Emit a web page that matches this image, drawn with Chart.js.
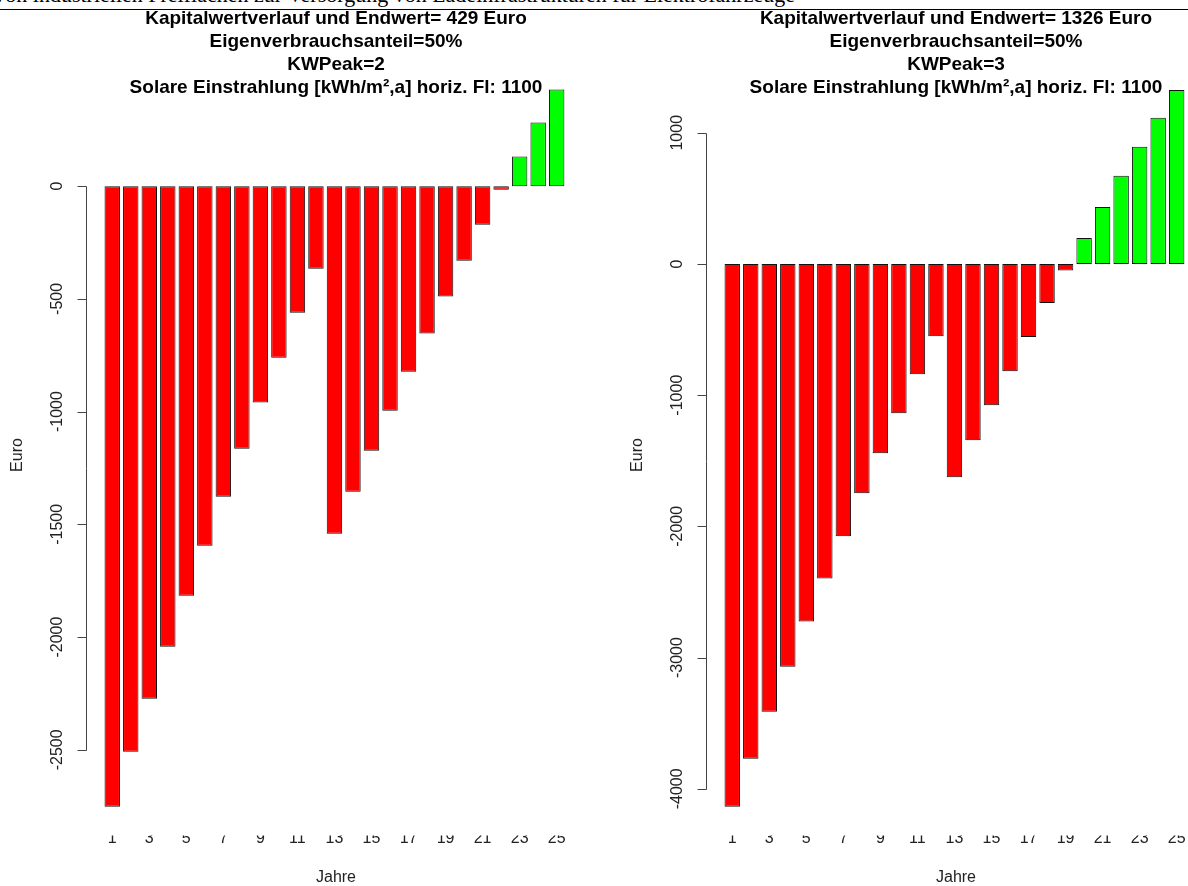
<!DOCTYPE html>
<html lang="de">
<head>
<meta charset="utf-8">
<title>Kapitalwertverlauf</title>
<script src="https://cdn.jsdelivr.net/npm/chart.js@4.4.1/dist/chart.umd.min.js"></script>
<style>
    html, body {
        margin: 0;
        padding: 0;
        background: #fff;
    }
    body {
        position: relative;
        width: 1188px;
        height: 886px;
        overflow: hidden;
    }
    .doc-line {
        position: absolute;
        right: 393px;
        top: -16px;
        font-family: "Liberation Serif", "Times New Roman", serif;
        font-size: 22px;
        line-height: 22px;
        white-space: nowrap;
        color: #000;
    }
    .doc-rule {
        position: absolute;
        left: 0;
        top: 9px;
        width: 1188px;
        height: 1px;
        background: #000;
    }
    canvas {
        position: absolute;
        top: 0;
    }
    #chart-kwp2 { left: 0; }
    #chart-kwp3 { left: 620px; }
</style>
</head>
<body>
<div class="doc-line">Nutzung von industriellen Freiflächen zur Versorgung von Ladeinfrastrukturen für Elektrofahrzeuge</div>
<div class="doc-rule"></div>
<canvas id="chart-kwp2" width="620" height="886"></canvas>
<canvas id="chart-kwp3" width="620" height="886"></canvas>
<script>
const years = [1, 2, 3, 4, 5, 6, 7, 8, 9, 10, 11, 12, 13, 14, 15, 16, 17, 18, 19, 20, 21, 22, 23, 24, 25];
const yearTicks = [1, 3, 5, 7, 9, 11, 13, 15, 17, 19, 21, 23, 25];

// Kapitalwert je Jahr, KWPeak=2
const kwp2Values = [
    -2753, -2509, -2274, -2043, -1817, -1595, -1378, -1165, -960, -761, -561, -366,
    -1542, -1355, -1174, -996, -823, -654, -490, -331, -171, -16, 131, 282, 429,
];
const kwp2Ticks = [0, -500, -1000, -1500, -2000, -2500];
const kwp2Title = [
    "Kapitalwertverlauf und Endwert= 429 Euro",
    "Eigenverbrauchsanteil=50%",
    "KWPeak=2",
    "Solare Einstrahlung [kWh/m\u00b2,a] horiz. Fl: 1100",
];

// Kapitalwert je Jahr, KWPeak=3
const kwp3Values = [
    -4137, -3771, -3412, -3069, -2725, -2397, -2076, -1748, -1443, -1137, -840, -550,
    -1626, -1344, -1076, -817, -557, -298, -50, 198, 435, 672, 893, 1114, 1326,
];
const kwp3Ticks = [1000, 0, -1000, -2000, -3000, -4000];
const kwp3Title = [
    "Kapitalwertverlauf und Endwert= 1326 Euro",
    "Eigenverbrauchsanteil=50%",
    "KWPeak=3",
    "Solare Einstrahlung [kWh/m\u00b2,a] horiz. Fl: 1100",
];

const FONT = '"Liberation Sans", Arial, sans-serif';

// y axis in the style of R: line only between first and last tick, labels turned
const rAxis = {
    id: "rAxis",
    afterDraw(chart, args, opts) {
        const ctx = chart.ctx;
        const yScale = chart.scales.y;
        const x0 = Math.round(chart.chartArea.left) + 0.5;
        const ticks = opts.ticks || [];
        if (!ticks.length) {
            return;
        }
        const yTop = Math.round(yScale.getPixelForValue(Math.max(...ticks))) + 0.5;
        const yBottom = Math.round(yScale.getPixelForValue(Math.min(...ticks))) + 0.5;

        ctx.save();
        ctx.strokeStyle = "#444";
        ctx.lineWidth = 1;
        ctx.beginPath();
        ctx.moveTo(x0, yTop);
        ctx.lineTo(x0, yBottom);
        ticks.forEach((v) => {
            const py = Math.round(yScale.getPixelForValue(v)) + 0.5;
            ctx.moveTo(x0 - 9, py);
            ctx.lineTo(x0, py);
        });
        ctx.stroke();

        ctx.fillStyle = "#222";
        ctx.font = "16px " + FONT;
        ctx.textAlign = "center";
        ctx.textBaseline = "middle";
        ticks.forEach((v) => {
            ctx.save();
            ctx.translate(x0 - 29, yScale.getPixelForValue(v));
            ctx.rotate(-Math.PI / 2);
            ctx.fillText(String(v), 0, 0);
            ctx.restore();
        });

        if (opts.title) {
            ctx.save();
            ctx.translate(x0 - 69, 455);
            ctx.rotate(-Math.PI / 2);
            ctx.fillText(opts.title, 0, 0);
            ctx.restore();
        }
        ctx.restore();
    },
};

function drawKapitalwert(canvasId, values, titleLines, yTicks, yMin, yMax) {
    const points = years.map((year, i) => ({ x: year, y: values[i] }));
    const colors = values.map((v) => (v >= 0 ? "#00ff00" : "#ff0000"));

    const config = {
        type: "bar",
        data: {
            datasets: [
                {
                    data: points,
                    backgroundColor: colors,
                    borderColor: "#111",
                    borderWidth: 1,
                    borderSkipped: false,
                    barPercentage: 1 / 1.2,
                    categoryPercentage: 1,
                },
            ],
        },
        plugins: [rAxis],
        options: {
            responsive: false,
            animation: false,
            devicePixelRatio: 1,
            layout: {
                padding: { left: 86, right: 34, top: 0, bottom: 0 },
            },
            scales: {
                x: {
                    type: "linear",
                    offset: false,
                    min: -0.417,
                    max: 26.583,
                    grid: { display: false, drawTicks: false },
                    border: { display: false },
                    afterBuildTicks: function (axis) {
                        axis.ticks = yearTicks.map((v) => ({ value: v }));
                    },
                    afterFit: function (axis) {
                        axis.height = 50.5;
                    },
                    ticks: {
                        padding: -7,
                        color: "#222",
                        font: { family: FONT, size: 16 },
                        maxRotation: 0,
                        autoSkip: false,
                        callback: function (value) {
                            return String(value);
                        },
                    },
                    title: {
                        display: true,
                        text: "Jahre",
                        color: "#222",
                        font: { family: FONT, size: 16, lineHeight: 1 },
                        padding: { top: 0, bottom: 0 },
                    },
                },
                y: {
                    display: false,
                    min: yMin,
                    max: yMax,
                },
            },
            plugins: {
                legend: { display: false },
                tooltip: { enabled: false },
                title: {
                    display: true,
                    fullSize: false,
                    text: titleLines,
                    color: "#000",
                    font: { family: FONT, size: 19, weight: "bold", lineHeight: 1.2 },
                    padding: { top: 7.5, bottom: -37.7 },
                },
                rAxis: {
                    ticks: yTicks,
                    title: "Euro",
                },
            },
        },
    };

    new Chart(document.getElementById(canvasId).getContext("2d"), config);
}

drawKapitalwert("chart-kwp2", kwp2Values, kwp2Title, kwp2Ticks, -2880, 555);
drawKapitalwert("chart-kwp3", kwp3Values, kwp3Title, kwp3Ticks, -4356, 1547);
</script>
</body>
</html>
